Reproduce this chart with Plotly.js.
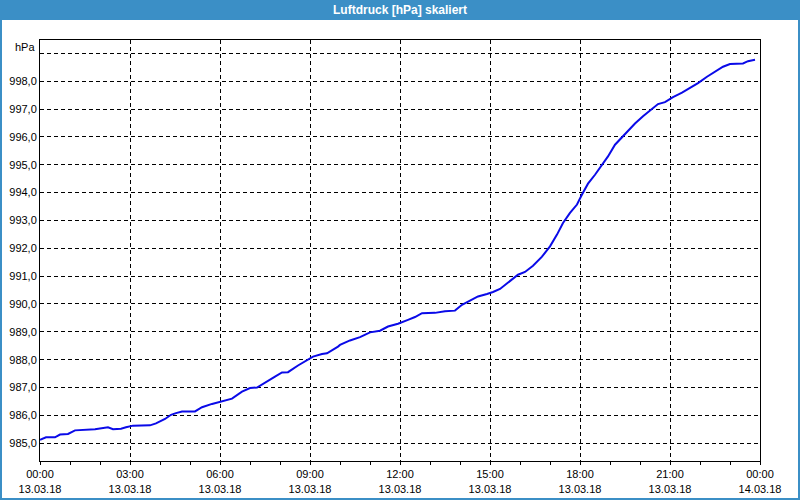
<!DOCTYPE html>
<html>
<head>
<meta charset="utf-8">
<script src="https://cdn.plot.ly/plotly-3.0.1.min.js"></script>
<style>
html,body{margin:0;padding:0;background:#fff;}
#chart{width:800px;height:500px;}
</style>
</head>
<body>
<div id="chart"></div>
<script>
// minutes after 13.03.18 00:00
const minutes = [0,12,30,40,56,70,110,122,136,146,162,172,186,220,232,250,262,272,284,310,324,344,360,384,404,420,434,450,470,484,496,516,534,546,564,574,596,600,620,640,660,680,696,716,736,750,764,790,810,830,844,860,876,894,906,920,936,956,970,986,1004,1020,1034,1046,1060,1074,1084,1096,1110,1124,1136,1150,1164,1176,1190,1206,1224,1236,1250,1266,1284,1300,1316,1334,1350,1366,1380,1394,1406,1416,1430];
const pressure = [985.12,985.21,985.21,985.31,985.33,985.46,985.50,985.53,985.57,985.50,985.52,985.57,985.63,985.64,985.71,985.87,986.02,986.08,986.14,986.14,986.29,986.41,986.48,986.60,986.85,986.98,987.00,987.16,987.39,987.54,987.55,987.79,987.97,988.11,988.20,988.23,988.47,988.53,988.69,988.81,988.98,989.04,989.19,989.29,989.43,989.53,989.67,989.68,989.74,989.76,989.97,990.11,990.27,990.36,990.43,990.54,990.77,991.05,991.15,991.37,991.70,992.07,992.49,992.91,993.27,993.57,993.93,994.32,994.64,995.00,995.30,995.72,996.00,996.20,996.48,996.74,997.00,997.18,997.25,997.43,997.59,997.75,997.93,998.16,998.34,998.52,998.62,998.63,998.64,998.72,998.77];
const xTickVals = ["2018-03-13 00:00","2018-03-13 03:00","2018-03-13 06:00","2018-03-13 09:00","2018-03-13 12:00","2018-03-13 15:00","2018-03-13 18:00","2018-03-13 21:00","2018-03-14 00:00"];
const xTickText = ["00:00<br>13.03.18","03:00<br>13.03.18","06:00<br>13.03.18","09:00<br>13.03.18","12:00<br>13.03.18","15:00<br>13.03.18","18:00<br>13.03.18","21:00<br>13.03.18","00:00<br>14.03.18"];
const yTickVals = [985,986,987,988,989,990,991,992,993,994,995,996,997,998,999];
const yTickText = ["985,0","986,0","987,0","988,0","989,0","990,0","991,0","992,0","993,0","994,0","995,0","996,0","997,0","998,0",""];
const titleText = "Luftdruck [hPa] skaliert";
const unitText = "hPa";

function pad(n){return (n<10?"0":"")+n;}
const times = minutes.map(m => "2018-03-13 " + pad(Math.floor(m/60)) + ":" + pad(m%60));

const L=40, R=40, T=40, B=39, W=800, H=500;
const pw = W-L-R, ph = H-T-B;
const px = p => (p-L)/pw;          // pixel x -> paper
const py = p => (H-B-p)/ph;        // pixel y -> paper

const font = "Liberation Sans, Arial, sans-serif";

Plotly.newPlot("chart", [{
  x: times, y: pressure, type: "scatter", mode: "lines",
  line: {color: "#0a0ae8", width: 2}, hoverinfo: "skip"
}], {
  width: W, height: H,
  margin: {l: L, r: R, t: T, b: B, pad: 0},
  paper_bgcolor: "#ffffff", plot_bgcolor: "#ffffff",
  showlegend: false,
  font: {family: font, size: 11, color: "#000"},
  title: {text: "<b>" + titleText + "</b>", x: 0.5, xanchor: "center", xref: "paper",
          y: 1 - 10/H, yanchor: "middle", yref: "container",
          font: {family: font, size: 12, color: "#ffffff"}},
  xaxis: {
    type: "date", range: ["2018-03-13 00:00", "2018-03-14 00:00"],
    tickvals: xTickVals, ticktext: xTickText, tickangle: 0,
    showgrid: true, gridcolor: "#000", gridwidth: 1, griddash: "4px,3px",
    showline: true, linecolor: "#000", linewidth: 1, mirror: true,
    ticks: "outside", ticklen: 3, tickcolor: "#000",
    minor: {dtick: 3600000, ticks: "outside", ticklen: 3, tickcolor: "#000", showgrid: false},
    zeroline: false, fixedrange: true,
    tickfont: {family: font, size: 11, color: "#000"}
  },
  yaxis: {
    range: [984.36, 999.48],
    tickvals: yTickVals, ticktext: yTickText,
    showgrid: true, gridcolor: "#000", gridwidth: 1, griddash: "4px,3px",
    showline: true, linecolor: "#000", linewidth: 1, mirror: true,
    ticks: "", zeroline: false, fixedrange: true,
    tickfont: {family: font, size: 11, color: "#000"}
  },
  shapes: [
    {type: "rect", xref: "paper", yref: "paper", layer: "below",
     x0: px(0), x1: px(W), y0: py(20), y1: py(0),
     fillcolor: "#3b8fc6", line: {width: 0}},
    {type: "rect", xref: "paper", yref: "paper", layer: "below",
     x0: px(1), x1: px(W-1), y0: py(H-1), y1: py(1),
     fillcolor: "rgba(0,0,0,0)", line: {color: "#3b8fc6", width: 2}}
  ],
  annotations: [
    {text: unitText, xref: "paper", yref: "paper", x: px(37), y: py(46.5),
     xanchor: "right", yanchor: "middle", showarrow: false,
     font: {family: font, size: 11, color: "#000"}}
  ]
}, {displayModeBar: false, staticPlot: true});
</script>
</body>
</html>
